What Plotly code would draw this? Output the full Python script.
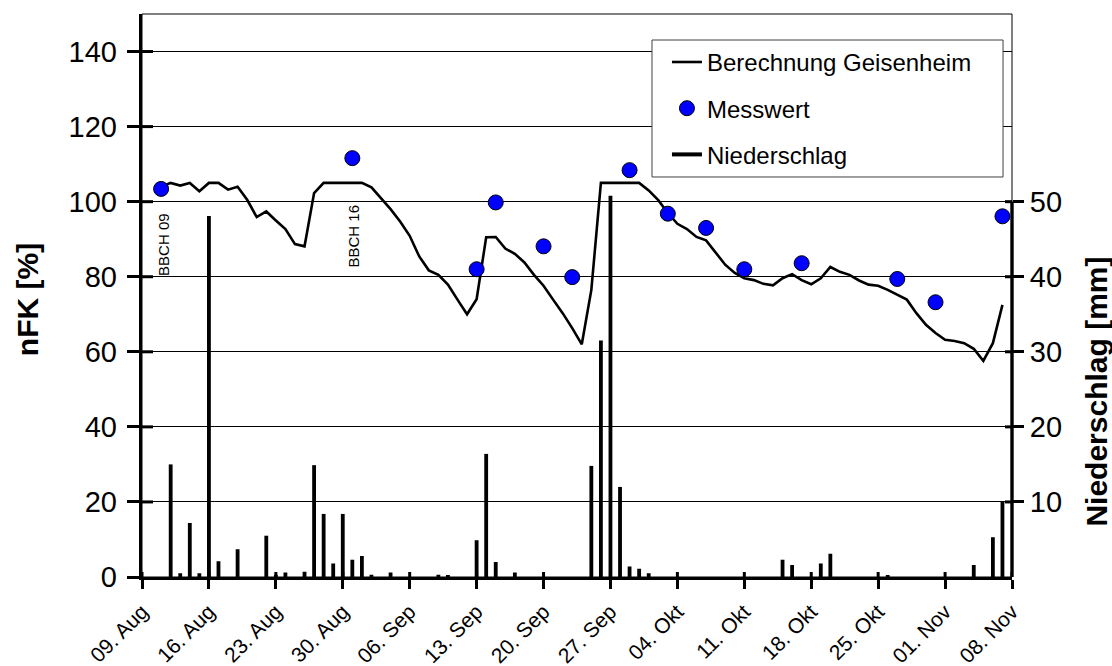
import pandas as pd
import plotly.graph_objects as go

# ---------------- data ----------------
calc_start = "2010-08-11"
calc_values = [104, 105, 104.3, 105, 102.8, 105, 105, 103.2, 104, 100.5,
               95.9, 97.4, 95, 92.7, 88.7, 88.1, 102.3, 105, 105, 105,
               105, 105, 103.8, 101, 98, 94.7, 90.9, 85.4, 81.7, 80.5,
               77.9, 73.9, 70.0, 74.0, 90.5, 90.6, 87.5, 86.1, 83.8, 80.5,
               77.6, 73.9, 70.3, 66.3, 62.0, 76.5, 105, 105, 105, 105,
               105, 103.0, 100.4, 97.0, 94.1, 92.7, 90.6, 89.7, 86.5, 83.2,
               81.0, 79.6, 79.1, 78.1, 77.7, 79.6, 80.7, 79.1, 78.0, 79.6,
               82.6, 81.3, 80.5, 79.0, 77.9, 77.6, 76.5, 75.2, 73.9, 70.3,
               67.2, 65.0, 63.2, 62.9, 62.3, 60.8, 57.6, 62.3, 72.5]

mess_dates = ["2010-08-11", "2010-08-31", "2010-09-13", "2010-09-15", "2010-09-20",
              "2010-09-23", "2010-09-29", "2010-10-03", "2010-10-07", "2010-10-11",
              "2010-10-17", "2010-10-27", "2010-10-31", "2010-11-07"]
mess_values = [103.4, 111.6, 82.0, 99.8, 88.1, 79.9, 108.4, 96.8, 93.0, 82.0,
               83.6, 79.4, 73.2, 96.1]

rain_dates = ["2010-08-12", "2010-08-13", "2010-08-14", "2010-08-15", "2010-08-16",
              "2010-08-17", "2010-08-19", "2010-08-22", "2010-08-23", "2010-08-24",
              "2010-08-26", "2010-08-27", "2010-08-28", "2010-08-29", "2010-08-30",
              "2010-08-31", "2010-09-01", "2010-09-02", "2010-09-04", "2010-09-09",
              "2010-09-10", "2010-09-13", "2010-09-14", "2010-09-15", "2010-09-17",
              "2010-09-25", "2010-09-26", "2010-09-27", "2010-09-28", "2010-09-29",
              "2010-09-30", "2010-10-01", "2010-10-15", "2010-10-16", "2010-10-19",
              "2010-10-20", "2010-10-26", "2010-11-04", "2010-11-06", "2010-11-07"]
rain_values = [15, 0.5, 7.2, 0.5, 48.1, 2.1, 3.7, 5.5, 0.3, 0.6,
               0.7, 14.9, 8.4, 1.8, 8.4, 2.3, 2.8, 0.3, 0.6, 0.3,
               0.15, 4.9, 16.4, 2.0, 0.6, 14.8, 31.5, 50.8, 12.0, 1.4,
               1.1, 0.5, 2.3, 1.6, 1.8, 3.1, 0.15, 1.6, 5.3, 10.0]

tick_dates = ["2010-08-09", "2010-08-16", "2010-08-23", "2010-08-30", "2010-09-06",
              "2010-09-13", "2010-09-20", "2010-09-27", "2010-10-04", "2010-10-11",
              "2010-10-18", "2010-10-25", "2010-11-01", "2010-11-08"]
tick_labels = ["09. Aug", "16. Aug", "23. Aug", "30. Aug", "06. Sep", "13. Sep",
               "20. Sep", "27. Sep", "04. Okt", "11. Okt", "18. Okt", "25. Okt",
               "01. Nov", "08. Nov"]

left_ticks = [0, 20, 40, 60, 80, 100, 120, 140]
right_ticks = [10, 20, 30, 40, 50]

x_range = ["2010-08-09", "2010-11-08"]
FONT = "Liberation Sans, Arial, sans-serif"

# plot-area geometry (px) used for decorations
PLOT_W = 1112 - 142 - 100
PLOT_H = 666 - 14 - 89

calc_dates = [d.strftime("%Y-%m-%d") for d in
              pd.date_range(calc_start, periods=len(calc_values), freq="D")]

fig = go.Figure()

fig.add_trace(go.Scatter(
    x=calc_dates, y=calc_values, mode="lines", name="Berechnung Geisenheim",
    line=dict(color="black", width=2.6), legendgroup="a"))

fig.add_trace(go.Scatter(
    x=mess_dates, y=mess_values, mode="markers", name="Messwert",
    marker=dict(color="#0000FF", size=15, line=dict(color="black", width=1)),
    legendgroup="b"))

fig.add_trace(go.Scatter(
    x=[None], y=[None], mode="lines", name="Niederschlag",
    line=dict(color="black", width=4), legendgroup="c"))

fig.add_trace(go.Bar(
    x=rain_dates, y=rain_values, yaxis="y2",
    width=0.4 * 86400000, marker=dict(color="black", line=dict(width=0)),
    name="Niederschlag", showlegend=False))

# axis decorations: inside parts of the crossing tick marks, frame, right axis line
shapes = [
    dict(type="rect", xref="paper", yref="paper", x0=0, x1=1, y0=0, y1=1,
         line=dict(color="black", width=1), layer="below"),
    dict(type="line", xref="paper", yref="y2", x0=1, x1=1, y0=0, y1=50,
         line=dict(color="black", width=3.4)),
    dict(type="rect", xref="paper", yref="paper", x0=0.5862, x1=0.9897,
         y0=0.7105, y1=0.9538, fillcolor="white",
         line=dict(color="#404040", width=1), layer="above"),
]
for v in left_ticks[1:]:
    shapes.append(dict(type="line", xref="paper", yref="y", x0=0, x1=11 / PLOT_W,
                       y0=v, y1=v, line=dict(color="black", width=3)))
for v in right_ticks:
    shapes.append(dict(type="line", xref="paper", yref="y2", x0=1 - 7 / PLOT_W, x1=1,
                       y0=v, y1=v, line=dict(color="black", width=3)))
for d in tick_dates:
    shapes.append(dict(type="line", xref="x", yref="paper", x0=d, x1=d,
                       y0=0, y1=5 / PLOT_H, line=dict(color="black", width=3)))

fig.update_layout(
    width=1112, height=666,
    margin=dict(l=142, r=100, t=14, b=89),
    paper_bgcolor="white", plot_bgcolor="white",
    font=dict(family=FONT, color="black"),
    xaxis=dict(type="date", range=x_range, tickvals=tick_dates,
               ticktext=tick_labels, tickangle=-45, automargin=False,
               tickfont=dict(size=21, family=FONT, color="black"),
               showgrid=False, zeroline=False,
               showline=True, linecolor="black", linewidth=3.4,
               ticks="outside", ticklen=9, tickwidth=3, tickcolor="black",
               ticklabelstandoff=2),
    yaxis=dict(range=[0, 150], tickvals=left_ticks, automargin=False,
               tickfont=dict(size=29, family=FONT, color="black"),
               showgrid=True, gridcolor="black", gridwidth=1,
               zeroline=False, showline=True, linecolor="black", linewidth=3.4,
               ticks="outside", ticklen=12, tickwidth=3, tickcolor="black",
               ticklabelstandoff=4),
    yaxis2=dict(range=[0, 75], overlaying="y", side="right", automargin=False,
                tickvals=right_ticks,
                tickfont=dict(size=29, family=FONT, color="black"),
                showgrid=False, zeroline=False, showline=False,
                ticks="outside", ticklen=11, tickwidth=3, tickcolor="black"),
    legend=dict(x=0.6034, y=0.954, xanchor="left", yanchor="top",
                bgcolor="rgba(0,0,0,0)", borderwidth=0,
                font=dict(size=24, family=FONT, color="black"),
                tracegroupgap=12),
    shapes=shapes,
    annotations=[
        dict(text="<b>nFK [%]</b>", xref="paper", yref="paper", x=-0.132, y=0.492,
             textangle=-90, showarrow=False, xanchor="center", yanchor="middle",
             font=dict(size=30, family=FONT, color="black")),
        dict(text="<b>Niederschlag [mm]</b>", xref="paper", yref="paper", x=1.097, y=0.33,
             textangle=-90, showarrow=False, xanchor="center", yanchor="middle",
             font=dict(size=30, family=FONT, color="black")),
        dict(text="BBCH 09", xref="x", yref="y", x="2010-08-11", y=88.5, xshift=3,
             textangle=-90, showarrow=False,
             font=dict(size=15, family=FONT, color="black")),
        dict(text="BBCH 16", xref="x", yref="y", x="2010-08-31", y=90.8, xshift=1,
             textangle=-90, showarrow=False,
             font=dict(size=15, family=FONT, color="black")),
    ],
)

fig.write_html("out.html")
